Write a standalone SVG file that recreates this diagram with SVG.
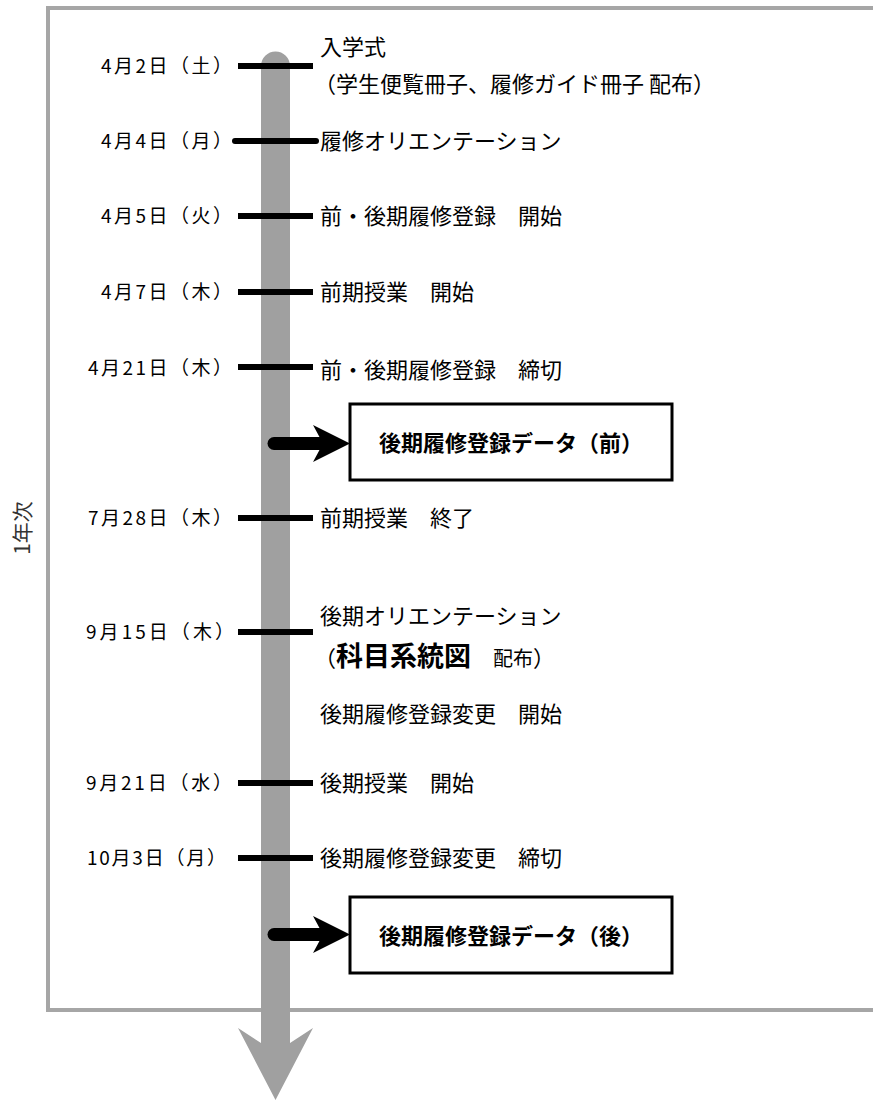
<svg xmlns="http://www.w3.org/2000/svg" width="873" height="1101" viewBox="0 0 873 1101">
<style>
text{font-family:"Noto Sans CJK JP","Noto Sans CJK SC",sans-serif;fill:#000}
.d{font-size:19px}
.t{font-size:22px}
.b{font-size:22px;font-weight:bold}
.tick{stroke:#000;stroke-width:6}
.box{fill:#fff;stroke:#000;stroke-width:3}
.ar{stroke:#000;stroke-width:13;stroke-linecap:round}
</style>
<path id="frame" d="M873,8 L48,8 L48,1010 L873,1010" fill="none" stroke="#a6a6a6" stroke-width="4"/>
<text id="year" x="21" y="528" font-size="21" text-anchor="middle" dominant-baseline="central" transform="rotate(-90 21 528)" style="fill:#333">1年次</text>
<g id="timeline">
<path d="M261,66 A14.5,14.5 0 0 1 290,66 L290,1043 L313,1028 L275.5,1100 L238,1028 L261,1043 Z" fill="#a0a0a0"/>
</g>
<g id="connectors">
<line class="tick" x1="238" y1="66" x2="313" y2="66"/>
<line class="tick" x1="235" y1="141" x2="316" y2="141" stroke-linecap="round"/>
<line class="tick" x1="238" y1="216" x2="313" y2="216"/>
<line class="tick" x1="238" y1="292" x2="313" y2="292"/>
<line class="tick" x1="238" y1="367" x2="313" y2="367"/>
<line class="tick" x1="238" y1="518" x2="313" y2="518"/>
<line class="tick" x1="238" y1="632" x2="313" y2="632"/>
<line class="tick" x1="238" y1="783" x2="313" y2="783"/>
<line class="tick" x1="238" y1="858" x2="313" y2="858"/>
<line class="ar" x1="274" y1="443.5" x2="322" y2="443.5"/>
<polygon points="313,425 350,443.5 313,462 323,443.5"/>
<line class="ar" x1="274" y1="934.5" x2="322" y2="934.5"/>
<polygon points="313,916 350,934.5 313,953 323,934.5"/>
</g>
<g id="e1"><text class="d" x="101" y="73" textLength="131" lengthAdjust="spacing">4月2日（土）</text>
<text class="t" x="320" y="55">入学式</text>
<text class="t" x="314" y="92">（学生便覧冊子、履修ガイド冊子 配布）</text></g>
<g id="e2"><text class="d" x="101" y="148" textLength="131" lengthAdjust="spacing">4月4日（月）</text>
<text class="t" x="320" y="149">履修オリエンテーション</text></g>
<g id="e3"><text class="d" x="101" y="223" textLength="131" lengthAdjust="spacing">4月5日（火）</text>
<text class="t" x="320" y="224">前・後期履修登録　開始</text></g>
<g id="e4"><text class="d" x="101" y="299" textLength="131" lengthAdjust="spacing">4月7日（木）</text>
<text class="t" x="320" y="300">前期授業　開始</text></g>
<g id="e5"><text class="d" x="88" y="375" textLength="144" lengthAdjust="spacing">4月21日（木）</text>
<text class="t" x="320" y="378">前・後期履修登録　締切</text></g>
<g id="box1"><rect class="box" x="350" y="404" width="322" height="76"/>
<text class="b" x="511" y="451" text-anchor="middle">後期履修登録データ（前）</text></g>
<g id="e6"><text class="d" x="88" y="525" textLength="144" lengthAdjust="spacing">7月28日（木）</text>
<text class="t" x="320" y="526">前期授業　終了</text></g>
<g id="e7"><text class="d" x="86" y="639" textLength="148" lengthAdjust="spacing">9月15日（木）</text>
<text class="t" x="320" y="624">後期オリエンテーション</text>
<text class="t" x="314" y="666">（<tspan font-size="27" font-weight="bold">科目系統図</tspan>　<tspan font-size="20">配布</tspan>）</text>
<text class="t" x="320" y="722">後期履修登録変更　開始</text></g>
<g id="e8"><text class="d" x="86" y="790" textLength="146" lengthAdjust="spacing">9月21日（水）</text>
<text class="t" x="320" y="791">後期授業　開始</text></g>
<g id="e9"><text class="d" x="87" y="865" textLength="139" lengthAdjust="spacing">10月3日（月）</text>
<text class="t" x="320" y="866">後期履修登録変更　締切</text></g>
<g id="box2"><rect class="box" x="350" y="897" width="322" height="76"/>
<text class="b" x="511" y="944" text-anchor="middle">後期履修登録データ（後）</text></g>
</svg>
